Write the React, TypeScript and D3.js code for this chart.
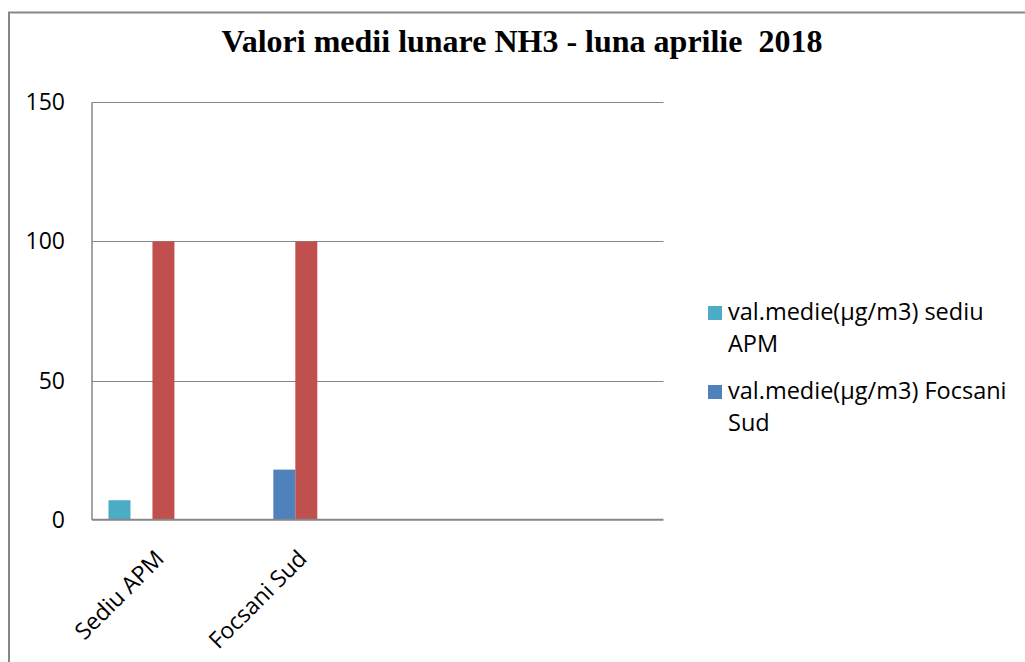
import { useRef, useEffect } from "react";
import * as d3 from "d3";

// --- data ---
const categories = ["Sediu APM", "Focsani Sud", "", ""];
const seriesKeys = ["sediuAPM", "focsaniSud", "limita", "s4", "s5"];
const sediuAPM = [7, null, null, null];
const focsaniSud = [null, 18, null, null];
const limita = [100, 100, null, null];
const emptySeries = [null, null, null, null];
const seriesValues = [sediuAPM, focsaniSud, limita, emptySeries, emptySeries];
const seriesColors = ["#4BACC6", "#4F81BD", "#C0504D", "#9BBB59", "#8064A2"];
const yTicks = [0, 50, 100, 150];
const legendItems = [
  { key: "sediuAPM", lines: ["val.medie(µg/m3) sediu", "APM"] },
  { key: "focsaniSud", lines: ["val.medie(µg/m3) Focsani", "Sud"] },
];
const title = "Valori medii lunare NH3 - luna aprilie  2018";

const W = 1025;
const H = 662;
const labelFont = "'Open Sans', Lato, sans-serif";

export default function App() {
  const svgRef = useRef<SVGSVGElement>(null);

  useEffect(() => {
    const svg = d3.select(svgRef.current);
    svg.selectAll("*").remove();

    const plot = { left: 92, right: 663.5, top: 102.3, bottom: 519.7 };

    const x = d3.scaleBand<string>()
      .domain(categories.map((c, i) => String(i)))
      .range([plot.left, plot.right])
      .padding(0);
    // gap width 150% -> outer padding of 0.75 step on each side
    const xs = d3.scaleBand<string>()
      .domain(seriesKeys)
      .range([0, x.bandwidth()])
      .paddingInner(0)
      .paddingOuter(0.75);
    const y = d3.scaleLinear().domain([0, 150]).range([plot.bottom, plot.top]);

    // outer frame (runs off the picture to the right/bottom)
    svg.append("rect")
      .attr("x", 9).attr("y", 12.5)
      .attr("width", W + 20).attr("height", H + 20)
      .attr("fill", "none")
      .attr("stroke", "#878787")
      .attr("stroke-width", 2);

    // title
    svg.append("text")
      .attr("x", 522).attr("y", 52)
      .attr("text-anchor", "middle")
      .attr("font-family", "'Liberation Serif', 'Times New Roman', serif")
      .attr("font-weight", "bold")
      .attr("font-size", "32px")
      .attr("fill", "#000")
      .style("white-space", "pre")
      .text(title);

    // gridlines
    svg.append("g")
      .selectAll("line")
      .data(yTicks.filter((t) => t > 0))
      .enter()
      .append("line")
      .attr("x1", plot.left).attr("x2", plot.right)
      .attr("y1", (d) => Math.round(y(d)) + 0.5)
      .attr("y2", (d) => Math.round(y(d)) + 0.5)
      .attr("stroke", "#868686")
      .attr("stroke-width", 1.2);

    // y tick labels
    svg.append("g")
      .selectAll("text")
      .data(yTicks)
      .enter()
      .append("text")
      .attr("x", 65)
      .attr("y", (d) => y(d) + 8)
      .attr("text-anchor", "end")
      .attr("font-family", labelFont)
      .attr("font-size", "23px")
      .attr("fill", "#000")
      .text((d) => d);

    // bars
    seriesValues.forEach((vals, si) => {
      svg.append("g")
        .selectAll("rect")
        .data(vals.map((v, ci) => ({ v, ci })).filter((d) => d.v !== null))
        .enter()
        .append("rect")
        .attr("x", (d) => (x(String(d.ci)) ?? 0) + (xs(seriesKeys[si]) ?? 0))
        .attr("y", (d) => y(d.v as number))
        .attr("width", xs.bandwidth())
        .attr("height", (d) => y(0) - y(d.v as number))
        .attr("fill", seriesColors[si]);
    });

    // axes lines
    svg.append("line")
      .attr("x1", plot.left).attr("x2", plot.left)
      .attr("y1", plot.top).attr("y2", plot.bottom)
      .attr("stroke", "#868686").attr("stroke-width", 1.5);
    svg.append("line")
      .attr("x1", plot.left).attr("x2", plot.right)
      .attr("y1", plot.bottom).attr("y2", plot.bottom)
      .attr("stroke", "#868686").attr("stroke-width", 2);

    // category labels, rotated -45, baseline end just right of band centre
    svg.append("g")
      .selectAll("text")
      .data(categories.map((c, i) => ({ c, i })).filter((d) => d.c))
      .enter()
      .append("text")
      .attr("transform", (d) =>
        `translate(${(x(String(d.i)) ?? 0) + x.bandwidth() / 2 + 2},560) rotate(-45)`)
      .attr("text-anchor", "end")
      .attr("font-family", labelFont)
      .attr("font-size", "23px")
      .attr("fill", "#000")
      .text((d) => d.c);

    // legend
    const lg = svg.append("g");
    legendItems.forEach((item, i) => {
      const si = seriesKeys.indexOf(item.key);
      const top = 306 + i * 79;
      lg.append("rect")
        .attr("x", 708).attr("y", top)
        .attr("width", 14).attr("height", 14)
        .attr("fill", seriesColors[si]);
      item.lines.forEach((line, li) => {
        lg.append("text")
          .attr("x", 728)
          .attr("y", top + 13.5 + li * 32.5)
          .attr("font-family", labelFont)
          .attr("font-size", "23.5px")
          .attr("fill", "#000")
          .text(line);
      });
    });
  }, []);

  return (
    <svg
      ref={svgRef}
      width={W}
      height={H}
      style={{ position: "absolute", left: 0, top: 0, background: "#fff" }}
    />
  );
}
